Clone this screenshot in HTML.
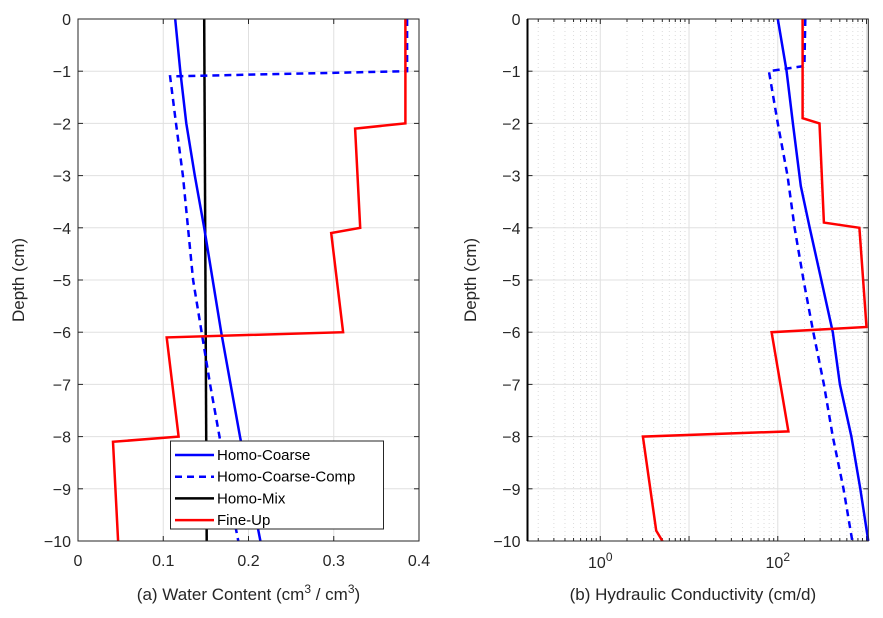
<!DOCTYPE html>
<html><head><meta charset="utf-8"><style>
html,body{margin:0;padding:0;background:#fff;}
svg{display:block;font-family:"Liberation Sans",sans-serif;}
</style></head><body>
<svg id="c" width="883" height="618"></svg>
<script>
const depthsCoarseA=[0,-1,-2,-3,-4,-5,-6,-7,-8,-9,-10];
const thetaCoarse=[0.114,0.12,0.127,0.137,0.148,0.158,0.168,0.179,0.19,0.202,0.214];
const depthsCompA=[0,-1,-1.1,-2,-3,-4,-5,-6,-7,-8,-9,-10];
const thetaComp=[0.386,0.386,0.108,0.115,0.123,0.129,0.135,0.145,0.155,0.166,0.176,0.188];
const depthsMix=[0,-10];
const thetaMix=[0.148,0.151];
const depthsFineA=[0,-2,-2.1,-4,-4.1,-6,-6.1,-8,-8.1,-10];
const thetaFine=[0.384,0.384,0.325,0.331,0.297,0.311,0.104,0.118,0.041,0.047];
const depthsCoarseB=[0,-1,-2,-3.2,-4,-5,-6,-7,-8,-9,-10];
const logKCoarse=[2.0,2.10,2.17,2.26,2.36,2.49,2.62,2.70,2.83,2.93,3.02];
const depthsCompB=[0,-0.9,-1,-2,-3,-4,-5,-6,-7,-8,-9,-10];
const logKComp=[2.31,2.30,1.90,2.0,2.11,2.19,2.29,2.40,2.52,2.62,2.74,2.84];
const depthsFineB=[0,-1.9,-2,-3.9,-4,-5.9,-6,-7.9,-8,-9.8,-10];
const logKFine=[2.28,2.28,2.47,2.52,2.92,3.0,1.93,2.12,0.48,0.63,0.70];
const yTicks=[0,-1,-2,-3,-4,-5,-6,-7,-8,-9,-10];
const xTicksA=[0,0.1,0.2,0.3,0.4];
const xTickLabelsA=["0","0.1","0.2","0.3","0.4"];
const xTicksB=[0,2];

const NS="http://www.w3.org/2000/svg";
const svg=document.getElementById('c');
function el(t,a,p){const e=document.createElementNS(NS,t);for(const k in a)e.setAttribute(k,a[k]);(p||svg).appendChild(e);return e;}
const yTop=19,yBot=541;
const yS=d=>yTop+(0-d)/10*(yBot-yTop);
const AL=78,AR=419,BL=527.5,BR=868.3;
const xA=v=>AL+v/0.4*(AR-AL);
const bMin=-0.82,bMax=3.02;
const xB=l=>BL+(l-bMin)/(bMax-bMin)*(BR-BL);
const tc="#262626";

function axesFrame(L,R,name){
  const g=el('g',{});
  
  
  el('rect',{x:L,y:yTop,width:R-L,height:yBot-yTop,fill:'#fff'},g);
  return g;
}
function yAxis(L,R,g,titleX){
  yTicks.forEach(t=>{
    const y=yS(t);
    el('line',{x1:L,x2:R,y1:y,y2:y,stroke:'#e0e0e0','stroke-width':1},g);
    el('line',{x1:L,x2:L+5,y1:y,y2:y,stroke:tc},g);
    el('line',{x1:R,x2:R-5,y1:y,y2:y,stroke:tc},g);
    const tx=el('text',{x:L-7,y:y+6,'text-anchor':'end','font-size':16,fill:tc},g);
    tx.textContent=t===0?"0":"\u2212"+Math.abs(t);
    
    
  });
  const yt=el('text',{x:titleX,y:(yTop+yBot)/2,'text-anchor':'middle','font-size':17,fill:tc,transform:`rotate(-90 ${titleX} ${(yTop+yBot)/2})`},g);
  yt.textContent="Depth (cm)";
  
  
}
function poly(xs,ys,fx,color,dash,name,g){
  const pts=xs.map((v,i)=>fx(v).toFixed(1)+","+yS(ys[i]).toFixed(1)).join(" ");
  const p=el('polyline',{points:pts,fill:'none',stroke:color,'stroke-width':2.5,'stroke-dasharray':dash||'none'},g);
  
  
}
function tspan(parent,txt,attrs){const s=el('tspan',attrs||{},parent);s.textContent=txt;return s;}

// Panel A
const gA=axesFrame(AL,AR,'water-content-panel');
xTicksA.forEach((t,i)=>{
  const x=xA(t);
  el('line',{x1:x,x2:x,y1:yTop,y2:yBot,stroke:'#e0e0e0'},gA);
  el('line',{x1:x,x2:x,y1:yBot,y2:yBot-5,stroke:tc},gA);
  el('line',{x1:x,x2:x,y1:yTop,y2:yTop+5,stroke:tc},gA);
  const tx=el('text',{x:x,y:yBot+25,'text-anchor':'middle','font-size':16,fill:tc},gA);
  tx.textContent=xTickLabelsA[i];
  
  
});
yAxis(AL,AR,gA,24);
poly(thetaMix,depthsMix,xA,'#000',null,'line-homo-mix',gA);
poly(thetaCoarse,depthsCoarseA,xA,'#0000ff',null,'line-homo-coarse',gA);
poly(thetaComp,depthsCompA,xA,'#0000ff','7,5','line-homo-coarse-comp',gA);
poly(thetaFine,depthsFineA,xA,'#ff0000',null,'line-fine-up',gA);
el('rect',{x:AL,y:yTop,width:AR-AL,height:yBot-yTop,fill:'none',stroke:tc,'stroke-width':1},gA);
const xtA=el('text',{x:(AL+AR)/2,y:600,'text-anchor':'middle','font-size':17,fill:tc},gA);
tspan(xtA,'(a) Water Content (cm');
tspan(xtA,'3',{dy:-7,'font-size':12});
tspan(xtA,' / cm',{dy:7});
tspan(xtA,'3',{dy:-7,'font-size':12});
tspan(xtA,')',{dy:7});



// Legend
const lg=el('g',{});


el('rect',{x:170.5,y:441,width:213,height:88,fill:'#fff',stroke:tc,'stroke-width':1},lg);
const entries=[["Homo-Coarse","#0000ff",null],["Homo-Coarse-Comp","#0000ff","7,5"],["Homo-Mix","#000",null],["Fine-Up","#ff0000",null]];
entries.forEach((e,i)=>{
  const y=455+i*21.7;
  const g=el('g',{},lg);
  
  
  el('line',{x1:175,x2:214,y1:y,y2:y,stroke:e[1],'stroke-width':2.5,'stroke-dasharray':e[2]||'none'},g);
  const t=el('text',{x:217,y:y+5,'font-size':15,fill:'#000'},g);
  t.textContent=e[0];
});

// Panel B
const gB=axesFrame(BL,BR,'conductivity-panel');
for(let d=-1;d<=3;d++){
  for(let m=1;m<=9;m++){
    const l=d+Math.log10(m);
    if(l<=bMin||l>=bMax)continue;
    const x=xB(l);
    el('line',{x1:x,x2:x,y1:yTop,y2:yBot,stroke:m===1?'#e0e0e0':'#dcdcdc','stroke-dasharray':m===1?'none':'1,3'},gB);
    el('line',{x1:x,x2:x,y1:yBot,y2:yBot-(m===1?5:3),stroke:tc},gB);
    el('line',{x1:x,x2:x,y1:yTop,y2:yTop+(m===1?5:3),stroke:tc},gB);
  }
}
xTicksB.forEach(t=>{
  const x=xB(t);
  const tx=el('text',{x:x,y:yBot+27,'text-anchor':'middle','font-size':16,fill:tc},gB);
  tspan(tx,'10');
  tspan(tx,String(t),{dy:-7,'font-size':12});
  
  
});
yAxis(BL,BR,gB,476);
poly(logKCoarse,depthsCoarseB,xB,'#0000ff',null,'line-homo-coarse-k',gB);
poly(logKComp,depthsCompB,xB,'#0000ff','7,5','line-homo-coarse-comp-k',gB);
poly(logKFine,depthsFineB,xB,'#ff0000',null,'line-fine-up-k',gB);
el('rect',{x:BL,y:yTop,width:BR-BL,height:yBot-yTop,fill:'none',stroke:tc,'stroke-width':1},gB);
el('line',{x1:BL,x2:BL,y1:yTop,y2:yBot,stroke:'#000','stroke-width':2},gB);
const xtB=el('text',{x:(BL+BR)/2-5,y:600,'text-anchor':'middle','font-size':17,fill:tc},gB);
xtB.textContent="(b) Hydraulic Conductivity (cm/d)";


</script>
</body></html>
